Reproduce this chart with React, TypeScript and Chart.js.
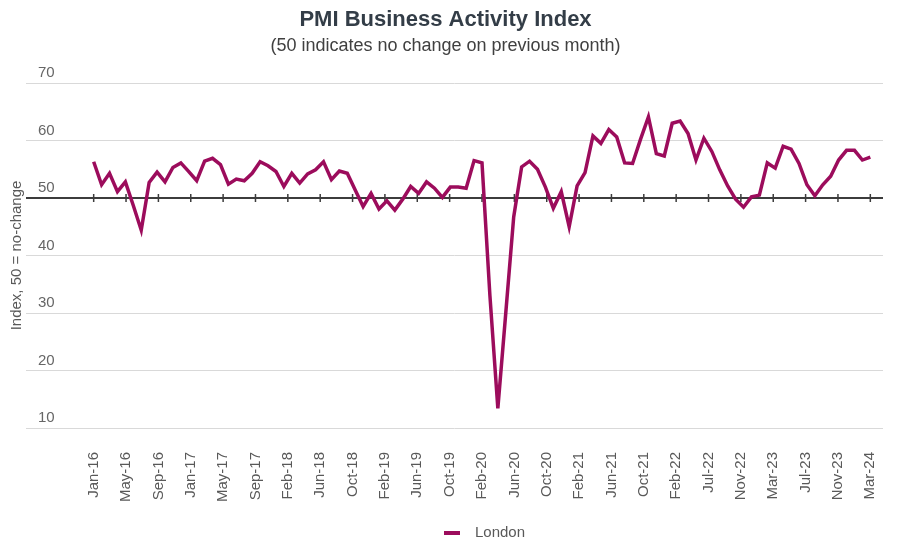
import React, { useEffect, useRef } from 'react';
import { Chart, registerables } from 'chart.js';

Chart.register(...registerables);

const FONT = '"Liberation Sans", Arial, Helvetica, sans-serif';

const chartTitle = 'PMI Business Activity Index';
const chartSubtitle = '(50 indicates no change on previous month)';
const yAxisTitle = 'Index, 50 = no-change';
const seriesName = 'London';
const baselineValue = 50;

const monthNames = ['Jan', 'Feb', 'Mar', 'Apr', 'May', 'Jun', 'Jul', 'Aug', 'Sep', 'Oct', 'Nov', 'Dec'];
const firstYear = 16;

// Monthly London PMI, Jan-16 .. Mar-24
const londonPmi = [
  56.3, 52.3, 54.3, 51.1, 52.8, 48.7, 44.4, 52.7, 54.5, 52.8, 55.3, 56.1,
  54.6, 53.0, 56.4, 56.9, 55.8, 52.4, 53.3, 53.0, 54.3, 56.3, 55.6, 54.6,
  52.0, 54.3, 52.6, 54.2, 54.9, 56.3, 53.2, 54.7, 54.3, 51.4, 48.5, 50.8,
  48.1, 49.5, 47.9, 49.8, 52.0, 50.8, 52.8, 51.7, 50.1, 51.9, 51.9, 51.7,
  56.5, 56.1, 33.0, 13.4, 30.0, 46.7, 55.4, 56.4, 55.0, 51.9, 48.2, 51.1,
  45.0, 52.1, 54.4, 60.8, 59.5, 61.9, 60.6, 56.1, 56.0, 60.2, 64.1, 57.7,
  57.3, 63.0, 63.4, 61.2, 56.6, 60.4, 58.1, 54.9, 52.1, 49.8, 48.4, 50.2,
  50.5, 56.1, 55.2, 59.0, 58.5, 56.0, 52.3, 50.4, 52.3, 53.8, 56.6, 58.3,
  58.3, 56.6, 57.1,
];

const monthLabels = londonPmi.map(
  (_, i) => `${monthNames[i % 12]}-${firstYear + Math.floor(i / 12)}`
);

const tickLabels = [
  'Jan-16', 'May-16', 'Sep-16', 'Jan-17', 'May-17', 'Sep-17', 'Feb-18', 'Jun-18',
  'Oct-18', 'Feb-19', 'Jun-19', 'Oct-19', 'Feb-20', 'Jun-20', 'Oct-20', 'Feb-21',
  'Jun-21', 'Oct-21', 'Feb-22', 'Jul-22', 'Nov-22', 'Mar-23', 'Jul-23', 'Nov-23',
  'Mar-24',
];

const yTicks = [10, 20, 30, 40, 50, 60, 70];

const LINE_COLOR = '#9c0c5c';

const baselinePlugin = {
  id: 'baseline',
  beforeDatasetsDraw(chart: any) {
    const { ctx, chartArea, scales } = chart;
    const yp = scales.y.getPixelForValue(baselineValue);
    ctx.save();
    ctx.strokeStyle = '#3c3c3c';
    ctx.lineWidth = 2;
    ctx.beginPath();
    ctx.moveTo(chartArea.left, yp);
    ctx.lineTo(chartArea.right, yp);
    ctx.stroke();
    ctx.lineWidth = 1.5;
    scales.x.ticks.forEach((t: any) => {
      const xp = scales.x.getPixelForValue(t.value);
      ctx.beginPath();
      ctx.moveTo(xp, yp - 4);
      ctx.lineTo(xp, yp + 4);
      ctx.stroke();
    });
    ctx.restore();
  },
};

const legendPlugin = {
  id: 'customLegend',
  afterDraw(chart: any) {
    const { ctx, width, height } = chart;
    const cy = height - 7;
    const cx = width / 2;
    ctx.save();
    ctx.strokeStyle = LINE_COLOR;
    ctx.lineWidth = 4;
    ctx.beginPath();
    ctx.moveTo(cx - 6, cy);
    ctx.lineTo(cx + 10, cy);
    ctx.stroke();
    ctx.fillStyle = '#595959';
    ctx.font = `15px ${FONT}`;
    ctx.textBaseline = 'middle';
    ctx.textAlign = 'left';
    ctx.fillText(seriesName, cx + 25, cy);
    ctx.restore();
  },
};

export default function App() {
  const canvasRef = useRef<HTMLCanvasElement | null>(null);

  useEffect(() => {
    if (!canvasRef.current) return;
    const lastIndex = londonPmi.length - 1;
    const chart = new Chart(canvasRef.current, {
      type: 'line',
      data: {
        datasets: [
          {
            label: seriesName,
            data: londonPmi.map((v, i) => ({ x: i, y: v })),
            borderColor: LINE_COLOR,
            backgroundColor: LINE_COLOR,
            borderWidth: 3.5,
            pointRadius: 0,
            tension: 0,
            fill: false,
          },
        ],
      },
      options: {
        animation: false,
        responsive: false,
        maintainAspectRatio: false,
        layout: { padding: { left: 8, right: 17, top: 0, bottom: 12 } },
        plugins: {
          legend: { display: false },
          tooltip: { enabled: false },
          title: {
            display: true,
            text: chartTitle,
            color: '#333d47',
            font: { family: FONT, size: 22, weight: 'bold' },
            padding: { top: 7, bottom: 0 },
          },
          subtitle: {
            display: true,
            text: chartSubtitle,
            color: '#404040',
            font: { family: FONT, size: 18 },
            padding: { top: 2, bottom: 26 },
          },
        },
        scales: {
          x: {
            type: 'linear',
            min: -8.54,
            max: 99.6,
            afterBuildTicks: (scale: any) => {
              scale.ticks = tickLabels.map((_, k) => ({
                value: (k * lastIndex) / (tickLabels.length - 1),
              }));
            },
            afterFit: (scale: any) => {
              scale.height = 100;
              scale.paddingLeft = 0;
              scale.paddingRight = 0;
            },
            grid: { display: false, drawTicks: false },
            border: { display: false },
            ticks: {
              autoSkip: false,
              minRotation: 90,
              maxRotation: 90,
              padding: 24,
              color: '#595959',
              font: { family: FONT, size: 15 },
              callback: (_v: any, index: number) => tickLabels[index],
            },
          },
          y: {
            min: 10,
            max: 70,
            afterBuildTicks: (scale: any) => {
              scale.ticks = yTicks.map((v) => ({ value: v }));
            },
            afterFit: (scale: any) => {
              scale.width = 18;
            },
            grid: { color: '#d9d9d9', lineWidth: 1, drawTicks: false },
            border: { display: false },
            ticks: {
              mirror: true,
              padding: 12,
              labelOffset: -10,
              color: '#666666',
              font: { family: FONT, size: 15 },
            },
            title: {
              display: true,
              text: yAxisTitle,
              color: '#595959',
              font: { family: FONT, size: 15 },
              padding: { top: 0, bottom: 0 },
            },
          },
        },
      },
      plugins: [baselinePlugin, legendPlugin],
    });
    return () => chart.destroy();
  }, []);

  return (
    <div style={{ position: 'fixed', left: 0, top: 0, width: 900, height: 540, background: '#ffffff' }}>
      <canvas ref={canvasRef} width={900} height={540} />
    </div>
  );
}
